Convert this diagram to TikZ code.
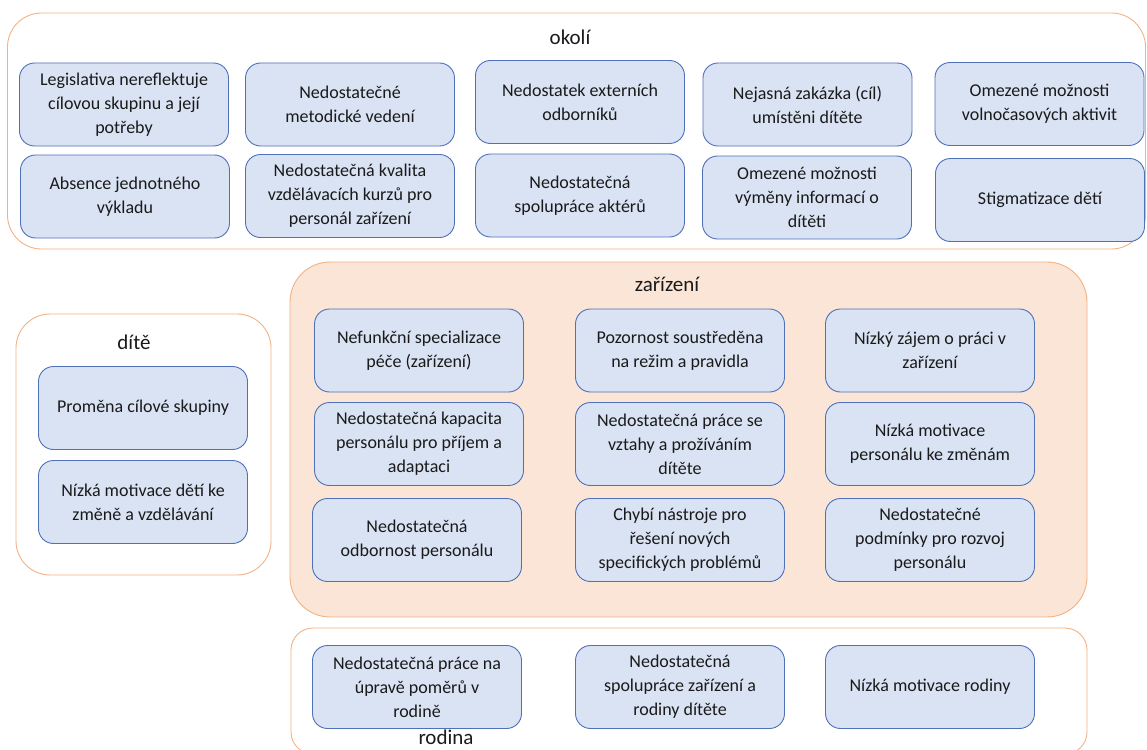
\documentclass[tikz,border=0pt]{standalone}
\usepackage{fontspec}
\setmainfont{Carlito}
\definecolor{boxfill}{HTML}{DAE3F3}
\definecolor{boxline}{HTML}{4F71B8}
\definecolor{grpline}{HTML}{F4B183}
\definecolor{grpfill}{HTML}{FBE5D6}
\definecolor{ink}{HTML}{1A1A1A}
\begin{document}
\begin{tikzpicture}[x=1pt,y=-1pt,
  item/.style={draw=boxline, fill=boxfill, rounded corners=15pt, line width=0.9pt,
    minimum width=209pt, minimum height=83pt, align=center, inner sep=0pt,
    text=ink, font=\fontsize{18}{24}\selectfont},
  group/.style={draw=grpline, rounded corners=34pt, line width=0.9pt, inner sep=0pt},
  title/.style={text=ink, font=\fontsize{21}{24}\selectfont, inner sep=0pt}]
\useasboundingbox (0,0) rectangle (1147,749);
\clip (0,0) rectangle (1147,749);

% containers
\node[group, minimum width=1138pt, minimum height=236pt] (okoli) at (576.5,131) {};
\node[group, minimum width=255pt, minimum height=261pt] (dite) at (143.5,444.5) {};
\node[group, fill=grpfill, rounded corners=40pt, minimum width=797pt, minimum height=355pt] (zarizeni) at (688.5,439.5) {};
\node[group, rounded corners=22pt, minimum width=796pt, minimum height=126pt] (rodina) at (689,691) {};

% titles
\node[title] (tokoli) at (570,37) {okolí};
\node[title] (tdite) at (134,342) {dítě};
\node[title] (tzarizeni) at (667,284) {zařízení};
\node[title] (trodina) at (446,737) {rodina};

% okolí
\node[item] (o11) at (124,104.5) {Legislativa nereflektuje\\cílovou skupinu a její\\potřeby};
\node[item] (o12) at (350,104.5) {Nedostatečné\\metodické vedení};
\node[item] (o13) at (580,102) {Nedostatek externích\\odborníků};
\node[item] (o14) at (807.5,104.5) {Nejasná zakázka (cíl)\\umístěni dítěte};
\node[item] (o15) at (1039.5,104) {Omezené možnosti\\volnočasových aktivit};
\node[item] (o21) at (125,196.5) {Absence jednotného\\výkladu};
\node[item] (o22) at (350,196) {Nedostatečná kvalita\\vzdělávacích kurzů pro\\personál zařízení};
\node[item] (o23) at (580,195.5) {Nedostatečná\\spolupráce aktérů};
\node[item] (o24) at (807,197.5) {Omezené možnosti\\výměny informací o\\dítěti};
\node[item] (o25) at (1040,200) {Stigmatizace dětí};

% dítě
\node[item] (d1) at (143,408) {Proměna cílové skupiny};
\node[item] (d2) at (143,502) {Nízká motivace dětí ke\\změně a vzdělávání};

% zařízení
\node[item] (z11) at (419,350.5) {Nefunkční specializace\\péče (zařízení)};
\node[item] (z12) at (680,350.5) {Pozornost soustředěna\\na režim a pravidla};
\node[item] (z13) at (930,350.5) {Nízký zájem o práci v\\zařízení};
\node[item] (z21) at (419,444) {Nedostatečná kapacita\\personálu pro příjem a\\adaptaci};
\node[item] (z22) at (680,444) {Nedostatečná práce se\\vztahy a prožíváním\\dítěte};
\node[item] (z23) at (930,444) {Nízká motivace\\personálu ke změnám};
\node[item] (z31) at (417,540) {Nedostatečná\\odbornost personálu};
\node[item] (z32) at (680,540) {Chybí nástroje pro\\řešení nových\\specifických problémů};
\node[item] (z33) at (930,540) {Nedostatečné\\podmínky pro rozvoj\\personálu};

% rodina
\node[item] (r1) at (417,687) {Nedostatečná práce na\\úpravě poměrů v\\rodině};
\node[item] (r2) at (680,687) {Nedostatečná\\spolupráce zařízení a\\rodiny dítěte};
\node[item] (r3) at (930,687) {Nízká motivace rodiny};
\end{tikzpicture}
\end{document}
